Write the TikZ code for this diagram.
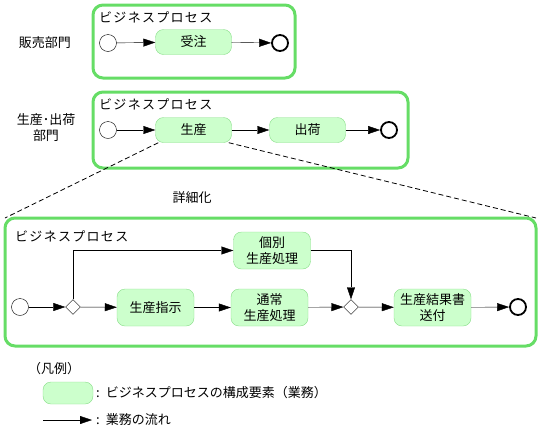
\documentclass[tikz,border=0pt]{standalone}
\usepackage{fontspec}
\newfontfamily\jp{Noto Sans CJK JP}
\newfontfamily\jpwide[LetterSpace=10]{Noto Sans CJK JP}
\usetikzlibrary{arrows.meta,shapes.geometric}
\definecolor{procgreen}{RGB}{102,221,102}
\definecolor{taskfill}{RGB}{204,255,204}
\definecolor{taskborder}{RGB}{136,221,136}
\tikzset{
  procbox/.style={draw=procgreen, line width=3pt, rounded corners=10pt},
  task/.style={draw=taskborder, fill=taskfill, rounded corners=8pt, align=center, inner sep=0pt, font=\jp\fontsize{13}{16}\selectfont},
  startev/.style={circle, draw, thin, minimum size=17pt, inner sep=0pt, fill=white},
  endev/.style={circle, draw, line width=1.8pt, minimum size=16pt, inner sep=0pt, fill=white},
  gate/.style={diamond, draw, thin, minimum size=15pt, inner sep=0pt, fill=white},
  flow/.style={-{Triangle[length=12pt,width=8pt]}, thin},
  lbl/.style={font=\jp\fontsize{13}{16}\selectfont, inner sep=0pt, align=center},
  titlel/.style={font=\jp\fontsize{13}{16}\selectfont, inner sep=0pt, anchor=west},
  ptitle/.style={font=\jpwide\fontsize{13}{16}\selectfont, inner sep=0pt, anchor=west},
  detail/.style={line width=0.8pt, dash pattern=on 5pt off 3pt}
}
\begin{document}
\begin{tikzpicture}[x=1pt,y=-1pt]
\useasboundingbox (0,0) rectangle (539,432);
% ---- box 1
\draw[procbox] (93,5) rectangle (295,78);
\node[ptitle] (t1) at (99,17) {ビジネスプロセス};
\node[lbl] (dep1) at (45,43) {販売部門};
\node[startev] (s1) at (108,43) {};
\node[task, minimum width=76pt, minimum height=25pt] (juchu) at (193.5,42) {受注};
\node[endev] (e1) at (280,43) {};
\draw[flow] (s1) -- (juchu);
\draw[flow] (juchu) -- (e1);
% ---- box 2
\draw[procbox] (93,92) rectangle (408,168);
\node[ptitle] (t2) at (99,104) {ビジネスプロセス};
\node[lbl] (dep2) at (46,128) {生産･出荷\\部門};
\node[startev] (s2) at (108,130) {};
\node[task, minimum width=76pt, minimum height=25pt] (seisan) at (193.5,130) {生産};
\node[task, minimum width=76pt, minimum height=25pt] (shukka) at (307.5,130) {出荷};
\node[endev] (e2) at (389,130) {};
\draw[flow] (s2) -- (seisan);
\draw[flow] (seisan) -- (shukka);
\draw[flow] (shukka) -- (e2);
% ---- detail
\coordinate (c3l) at (5,218);
\coordinate (c3r) at (536,218);
\draw[detail] (seisan.south west) ++(3,0) -- (c3l);
\draw[detail] (seisan.south east) ++(-3,0) -- (c3r);
\node[lbl] (shousai) at (192,198) {詳細化};
% ---- box 3
\draw[procbox] (5,218) rectangle (536,346);
\node[ptitle] (t3) at (15,236) {ビジネスプロセス};
\node[startev] (s3) at (20,307) {};
\node[gate] (g1) at (73,307) {};
\node[task, minimum width=77pt, minimum height=37pt] (shiji) at (155.5,307.5) {生産指示};
\node[task, minimum width=77pt, minimum height=37pt] (tsujo) at (269.5,307.5) {通常\\生産処理};
\node[task, minimum width=77pt, minimum height=37pt] (kobetsu) at (272,250.5) {個別\\生産処理};
\node[gate] (g2) at (351,307) {};
\node[task, minimum width=77pt, minimum height=37pt] (kekka) at (432.5,307.5) {生産結果書\\送付};
\node[endev] (e3) at (518,307) {};
\draw[flow] (s3) -- (g1);
\draw[flow] (g1) -- (shiji);
\draw[flow] (shiji) -- (tsujo);
\draw[flow] (tsujo) -- (g2);
\draw[flow] (g2) -- (kekka);
\draw[flow] (kekka) -- (e3);
\draw[flow] (g1.north) |- (kobetsu.west);
\draw[flow] (kobetsu.east) -| (g2.north);
% ---- legend
\node[titlel] (hanrei) at (28,369) {（凡例）};
\node[task, minimum width=50pt, minimum height=22pt] (legtask) at (68,393) {};
\node[titlel] (legt1) at (96,393) {:\hspace{6pt}ビジネスプロセスの構成要素（業務）};
\coordinate (la) at (43,420);
\coordinate (lb) at (92,420);
\draw[flow] (la) -- (lb);
\node[titlel] (legt2) at (96,420) {:\hspace{6pt}業務の流れ};
\end{tikzpicture}
\end{document}
